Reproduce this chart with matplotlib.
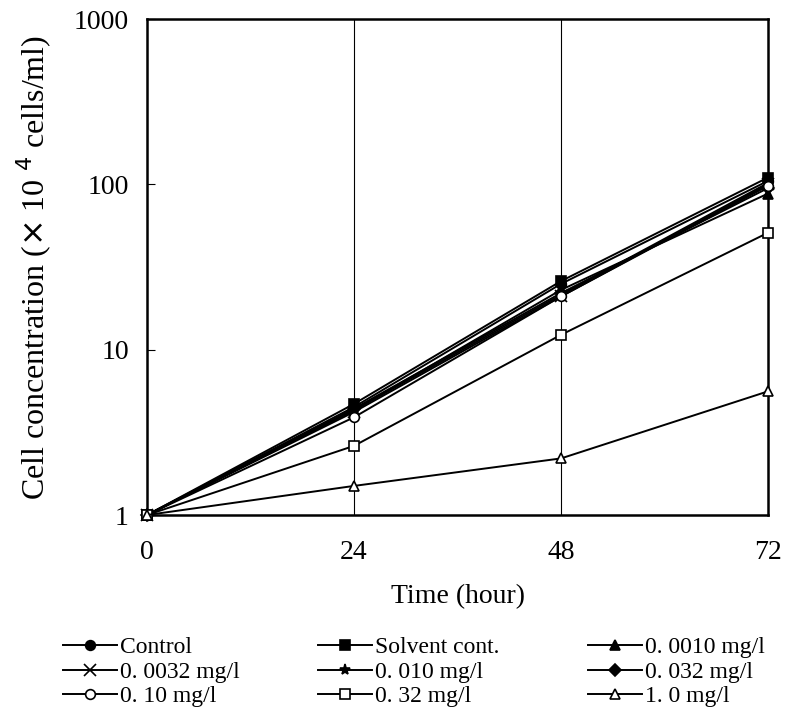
import numpy as np
import matplotlib
matplotlib.use('Agg')
from matplotlib import pyplot as plt

# data
hours = [0, 24, 48, 72]
control = [1, 4.5, 25, 105]
solvent = [1, 4.7, 26, 110]
c0010 = [1, 4.3, 23, 88]
c0032 = [1, 4.2, 21, 100]
c010 = [1, 4.3, 21.5, 102]
c032 = [1, 4.4, 22, 95]
c10 = [1, 3.9, 21, 98]
c32 = [1, 2.62, 12.3, 51]
c100 = [1, 1.5, 2.2, 5.6]
series = [control, solvent, c0010, c0032, c010, c032, c10, c32, c100]
legend_text = ['Control', 'Solvent cont.', '0. 0010 mg/l',
               '0. 0032 mg/l', '0. 010 mg/l', '0. 032 mg/l',
               '0. 10 mg/l', '0. 32 mg/l', '1. 0 mg/l']

# 标记样式
styles = [('o', 'k'), ('s', 'k'), ('^', 'k'),
          ('x', 'k'), ('*', 'k'), ('D', 'k'),
          ('o', 'w'), ('s', 'w'), ('^', 'w')]

plt.rcParams['font.family'] = ['Liberation Serif', 'DejaVu Serif']

fig = plt.figure(figsize=(7.91, 7.26), dpi=100)
ax = fig.add_axes([0.1858, 0.2906, 0.7852, 0.6832])

lines = []
for ys, (m, fc), lab in zip(series, styles, legend_text):
    ms = 7
    if m == 'D':
        ms = 6
    if m in ('x', '*'):
        ms = 8
    ln, = ax.plot(hours, ys, color='k', lw=1.4, marker=m, markersize=ms,
                  markerfacecolor=fc, markeredgecolor='k', markeredgewidth=1.2,
                  label=lab, clip_on=False, zorder=3)
    lines.append(ln)

ax.set_yscale('log')
ax.set_ylim(1, 1000)
ax.set_xlim(0, 72)
ax.set_xticks(hours)
ax.set_yticks([1, 10, 100, 1000])
ax.set_yticklabels(['1', '10', '100', '1000'])
ax.yaxis.set_minor_locator(matplotlib.ticker.NullLocator())
ax.tick_params(axis='y', direction='in', length=6, labelsize=20, pad=13)
ax.tick_params(axis='x', direction='in', length=0, labelsize=20, pad=18)
for x in [24, 48]:
    ax.axvline(x, color='k', lw=0.8, zorder=1)
for s in ax.spines.values():
    s.set_linewidth(1.8)

ax.set_xlabel('Time (hour)', fontsize=20, labelpad=14)
ax.set_ylabel(r'Cell concentration ($\times$ 10 $^{4}$ cells/ml)', fontsize=23, labelpad=14)

# 图例分三列, 每列单独放
col_x = [63, 318, 588]
for i in range(3):
    # row-major: column i holds items i, i+3, i+6
    idx = [i, i + 3, i + 6]
    fig.legend(handles=[lines[k] for k in idx],
               labels=[legend_text[k] for k in idx],
               loc='center left', bbox_to_anchor=(col_x[i] / 791, 1 - 672 / 726),
               ncol=1, frameon=False, fontsize=17, borderpad=0, borderaxespad=0,
               handlelength=2.3, handletextpad=0.1, labelspacing=0.12)

fig.savefig('out.png', dpi=100)
